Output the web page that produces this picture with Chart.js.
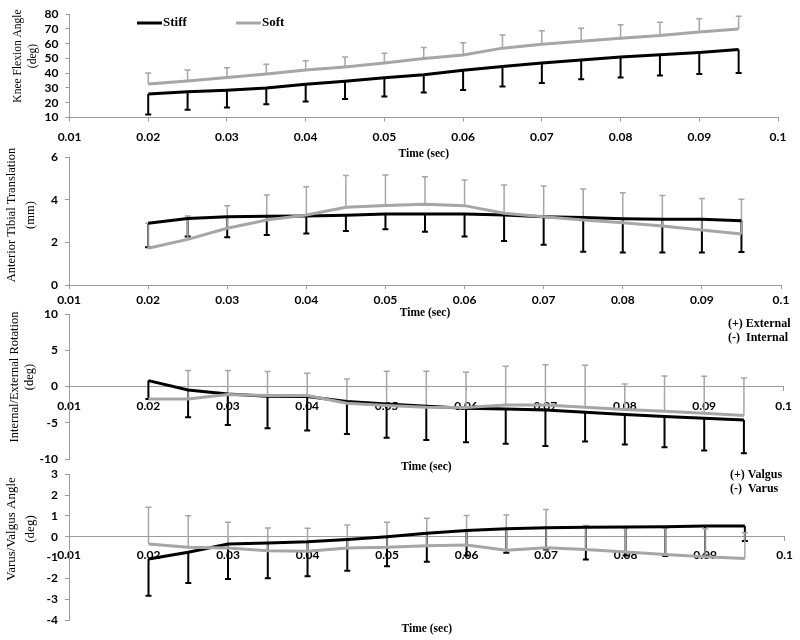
<!DOCTYPE html>
<html>
<head>
<meta charset="utf-8">
<script src="https://cdn.jsdelivr.net/npm/chart.js@4"></script>
<style>
  body { margin: 0; background: #fff; width: 800px; height: 640px; position: relative; overflow: hidden; }
  canvas { position: absolute; left: 0; }
</style>
</head>
<body>
<canvas id="c1" width="800" height="162" style="top:0px"></canvas>
<canvas id="c2" width="800" height="180" style="top:140px"></canvas>
<canvas id="c3" width="800" height="175" style="top:300px"></canvas>
<canvas id="c4" width="800" height="180" style="top:460px"></canvas>
<script>
// time points (sec)
const time = [0.02, 0.025, 0.03, 0.035, 0.04, 0.045, 0.05, 0.055, 0.06, 0.065, 0.07, 0.075, 0.08, 0.085, 0.09, 0.095];
const seriesNames = ['Stiff', 'Soft'];

// knee flexion angle (deg), error bar ends
const kneeStiff     = [26, 27.5, 28.5, 30, 32.5, 34.5, 37, 39, 42, 44.5, 47, 49, 51, 52.5, 54, 56];
const kneeStiffLow  = [12, 15.2, 16.8, 19, 20.9, 22.5, 24.3, 27, 28.7, 31, 33.3, 35.9, 37.1, 38.4, 39.5, 40.1];
const kneeSoft      = [32.7, 34.8, 37.1, 39.5, 42.2, 44.3, 46.9, 50, 52.3, 57, 59.7, 61.6, 63.7, 65.5, 68, 70];
const kneeSoftHigh  = [40.1, 42.2, 43.7, 46, 48.5, 51, 53.6, 57.4, 60.6, 65.9, 68.8, 70.5, 72.9, 74.5, 76.9, 78.6];

// anterior tibial translation (mm)
const attStiff      = [2.89, 3.12, 3.2, 3.22, 3.23, 3.27, 3.33, 3.33, 3.33, 3.28, 3.2, 3.16, 3.11, 3.08, 3.08, 3.01];
const attStiffLow   = [1.77, 2.27, 2.24, 2.34, 2.41, 2.53, 2.61, 2.5, 2.27, 2.06, 1.89, 1.56, 1.52, 1.52, 1.52, 1.55];
const attSoft       = [1.72, 2.14, 2.66, 3.05, 3.28, 3.64, 3.73, 3.78, 3.72, 3.36, 3.2, 3.05, 2.92, 2.77, 2.58, 2.39];
const attSoftHigh   = [2.9, 3.23, 3.72, 4.22, 4.61, 5.13, 5.16, 5.08, 4.92, 4.69, 4.64, 4.5, 4.33, 4.2, 4.06, 4.02];

// internal/external rotation (deg)
const rotStiff      = [0.83, -0.46, -1.01, -1.33, -1.38, -2.07, -2.39, -2.71, -2.99, -3.08, -3.22, -3.54, -3.86, -4.14, -4.37, -4.6];
const rotStiffLow   = [-1.7, -4.23, -5.29, -5.75, -6.07, -6.53, -7.08, -7.36, -7.68, -7.9, -8.2, -7.6, -8.0, -8.37, -8.83, -9.2];
const rotSoft       = [-1.7, -1.7, -1.1, -1.24, -1.24, -2.3, -2.62, -2.85, -2.9, -2.53, -2.53, -2.85, -3.17, -3.4, -3.68, -4.0];
const rotSoftHigh   = [null, 2.21, 2.21, 2.07, 1.84, 1.06, 2.11, 2.11, 1.98, 2.8, 3.03, 2.94, 0.37, 1.47, 1.43, 1.2];

// varus/valgus angle (deg)
const vvStiff       = [-1.07, -0.75, -0.35, -0.3, -0.24, -0.13, 0, 0.16, 0.3, 0.38, 0.43, 0.45, 0.46, 0.48, 0.51, 0.51];
const vvStiffLow    = [-2.83, -2.22, -2.03, -2.0, -1.9, -1.63, -1.42, -1.2, -0.9, -0.77, -0.61, -1.09, -0.9, -0.93, -0.9, -0.21];
const vvSoft        = [-0.35, -0.51, -0.54, -0.67, -0.7, -0.54, -0.51, -0.43, -0.4, -0.65, -0.53, -0.62, -0.73, -0.85, -0.96, -1.05];
const vvSoftHigh    = [1.41, 1.01, 0.69, 0.42, 0.4, 0.56, 0.69, 0.88, 1.02, 1.04, 1.3, 0.54, 0.4, 0.4, 0.38, 0.19];

const rotNotes = ['(+) External', '(-)  Internal'];
const vvNotes = ['(+) Valgus', '(-)  Varus'];

const axisGray = '#9c9c9c';
const softGray = '#a6a6a6';
const tickFont = { family: 'Lato', size: 12, weight: 'bold' };
const serif = '"Liberation Serif", "DejaVu Serif", serif';

// error bars + extra texts (legend, y titles, sign notes)
const decor = {
  id: 'decor',
  beforeDatasetsDraw(chart) {
    const ctx = chart.ctx;
    const ys = chart.scales.y;
    chart.data.datasets.forEach((ds, i) => {
      const meta = chart.getDatasetMeta(i);
      ctx.save();
      ctx.strokeStyle = ds.borderColor;
      ctx.lineWidth = ds.errWidth;
      ds.errEnd.forEach((v, j) => {
        if (v === null) return;
        const p = meta.data[j];
        const ye = ys.getPixelForValue(v);
        ctx.beginPath();
        ctx.moveTo(p.x, p.y);
        ctx.lineTo(p.x, ye);
        ctx.moveTo(p.x - 3, ye);
        ctx.lineTo(p.x + 3, ye);
        ctx.stroke();
      });
      ctx.restore();
    });
  },
  afterDraw(chart, args, o) {
    const ctx = chart.ctx;
    ctx.save();
    ctx.fillStyle = '#000';
    ctx.textBaseline = 'middle';
    if (o.yTitle) {
      const t = o.yTitle;
      ctx.font = t.size + 'px ' + serif;
      ctx.textAlign = 'center';
      t.lines.forEach((line, k) => {
        ctx.save();
        ctx.translate(t.x[k], t.y);
        ctx.rotate(-Math.PI / 2);
        ctx.fillText(line, 0, 0);
        ctx.restore();
      });
    }
    if (o.legend) {
      const lg = o.legend;
      ctx.font = 'bold 13px ' + serif;
      ctx.textAlign = 'left';
      chart.data.datasets.forEach((ds, i) => {
        ctx.strokeStyle = ds.borderColor;
        ctx.lineWidth = 3;
        ctx.beginPath();
        ctx.moveTo(lg.x[i], lg.y);
        ctx.lineTo(lg.x[i] + lg.len, lg.y);
        ctx.stroke();
        ctx.fillText(ds.label, lg.x[i] + lg.len + 1, lg.y);
      });
    }
    if (o.notes) {
      const n = o.notes;
      ctx.font = 'bold 12px ' + serif;
      ctx.textAlign = 'left';
      n.lines.forEach((line, k) => ctx.fillText(line, n.x, n.y + k * n.gap));
    }
    ctx.restore();
  }
};

function pts(vals) {
  return time.map((t, i) => ({ x: t, y: vals[i] }));
}

function fmtTime(v) {
  return String(+v.toFixed(3));
}

function xTicksAxis(pad) {
  return {
    type: 'linear', min: 0.01, max: 0.1,
    ticks: { stepSize: 0.01, autoSkip: false, maxRotation: 0, color: '#000', font: tickFont, padding: pad, callback: fmtTime },
    grid: { drawOnChartArea: false, tickLength: 4, color: axisGray },
    border: { color: axisGray }
  };
}

function panel(id, c) {
  const xTitle = {
    display: true, text: 'Time (sec)', color: '#000',
    font: { family: serif, size: 11.5, weight: 'bold' },
    padding: { top: 0, bottom: c.titlePad }
  };
  let scales;
  if (c.zeroAxis) {
    const xz = xTicksAxis(c.xPad);
    xz.axis = 'x';
    xz.position = { y: 0 };
    scales = {
      x: {
        type: 'linear', min: 0.01, max: 0.1,
        ticks: { display: false },
        grid: { display: false },
        border: { display: false },
        title: xTitle,
        afterFit: s => { s.height = c.xH; }
      },
      xz: xz
    };
  } else {
    const x = xTicksAxis(c.xPad);
    x.title = xTitle;
    x.afterFit = s => { s.height = c.xH; };
    scales = { x: x };
  }
  scales.y = {
    min: c.yMin, max: c.yMax,
    ticks: { stepSize: c.yStep, autoSkip: false, color: '#000', font: tickFont, padding: 7 },
    grid: { drawOnChartArea: false, tickLength: 4, color: axisGray },
    border: { color: axisGray },
    afterFit: s => { s.width = c.left; }
  };

  return new Chart(document.getElementById(id), {
    type: 'line',
    data: {
      datasets: [
        { label: seriesNames[0], data: pts(c.stiff), errEnd: c.stiffErr, errWidth: 2,
          borderColor: '#000', borderWidth: 3, pointRadius: 0, tension: 0, order: 1 },
        { label: seriesNames[1], data: pts(c.soft), errEnd: c.softErr, errWidth: 1.5,
          borderColor: softGray, borderWidth: 3, pointRadius: 0, tension: 0, order: 0 }
      ]
    },
    options: {
      responsive: false,
      animation: false,
      events: [],
      layout: { padding: { top: c.top, right: c.right, bottom: 0, left: 0 } },
      scales: scales,
      plugins: {
        legend: { display: false },
        tooltip: { enabled: false },
        decor: { yTitle: c.yTitle, legend: c.legend, notes: c.notes }
      }
    },
    plugins: [decor]
  });
}

panel('c1', {
  stiff: kneeStiff, stiffErr: kneeStiffLow, soft: kneeSoft, softErr: kneeSoftHigh,
  yMin: 10, yMax: 80, yStep: 10,
  top: 7, right: 22, left: 69.5, xH: 44.5, xPad: 8, titlePad: 1,
  yTitle: { lines: ['Knee Flexion Angle', '(deg)'], size: 11.5, x: [18, 33], y: 56 },
  legend: { x: [137, 236], y: 23, len: 25 }
});

panel('c2', {
  stiff: attStiff, stiffErr: attStiffLow, soft: attSoft, softErr: attSoftHigh,
  yMin: 0, yMax: 6, yStep: 2,
  top: 17, right: 19, left: 69, xH: 35, xPad: 4, titlePad: 0,
  yTitle: { lines: ['Anterior Tibial Translation', '(mm)'], size: 12.5, x: [12, 31], y: 75 }
});

panel('c3', {
  stiff: rotStiff, stiffErr: rotStiffLow, soft: rotSoft, softErr: rotSoftHigh,
  yMin: -10, yMax: 10, yStep: 5, zeroAxis: true,
  top: 14, right: 11, left: 69, xH: 16, xPad: 8, titlePad: 1,
  yTitle: { lines: ['Internal/External Rotation', '(deg)'], size: 12.5, x: [15, 30], y: 77 },
  notes: { lines: rotNotes, x: 728, y: 24, gap: 14 }
});

panel('c4', {
  stiff: vvStiff, stiffErr: vvStiffLow, soft: vvSoft, softErr: vvSoftHigh,
  yMin: -4, yMax: 3, yStep: 1, zeroAxis: true,
  top: 14, right: 11, left: 69, xH: 20, xPad: 7, titlePad: 4,
  yTitle: { lines: ['Varus/Valgus Angle', '(deg)'], size: 13, x: [12, 31], y: 69 },
  notes: { lines: vvNotes, x: 730, y: 15, gap: 14 }
});
</script>
</body>
</html>
